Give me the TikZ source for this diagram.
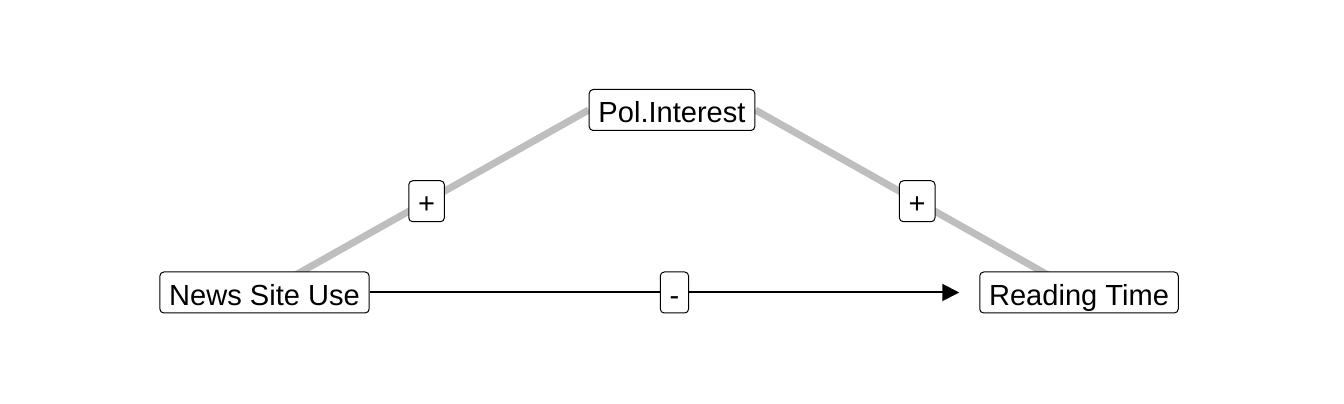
\documentclass[tikz,border=0pt]{standalone}
\usepackage{fontspec}
\setmainfont{Liberation Sans}
\usetikzlibrary{calc,arrows.meta,backgrounds}
\definecolor{pathgray}{RGB}{190,190,190}

\begin{document}
\begin{tikzpicture}[x=0.75pt,y=0.75pt,
    var/.style={draw=black,text=black,rounded corners=3pt,fill=white,line width=0.75pt,inner xsep=7pt,
      minimum height=30.75pt,text height=18.8pt,text depth=0pt,font=\fontsize{21.8}{26}\selectfont},
    sign/.style={var},
    mediation/.style={pathgray,line width=5.25pt}]
  \useasboundingbox (0,0) rectangle (1344,403);
  \node[var](news)at(264.5,110.5){News Site Use};
  \node[var](pol)at(672,293){Pol.Interest};
  \node[var](read)at(1079,110.5){Reading Time};
  \draw[-{Triangle[length=12.75pt,width=12.75pt]},line width=1.5pt,shorten >=15pt](news)--node[sign]{-}(read);
  \begin{scope}[on background layer]
    \fill[white] (0,0) rectangle (1344,403);
    \draw[mediation](pol.west)--node[sign]{+}(news.center);
    \draw[mediation](pol.east)--node[sign]{+}(read.center);
  \end{scope}
\end{tikzpicture}
\end{document}
